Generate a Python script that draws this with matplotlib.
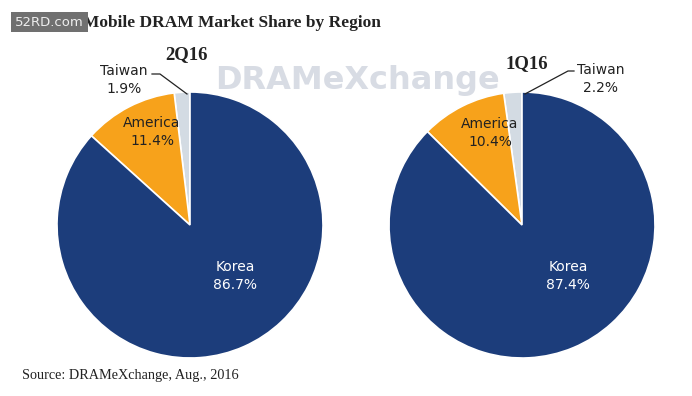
import matplotlib.pyplot as plt

regions = ['Taiwan', 'America', 'Korea']
share_2q16 = [1.9, 11.4, 86.7]
share_1q16 = [2.2, 10.4, 87.4]
colors = ['#d3dbe3', '#f7a21b', '#1c3d7b']

W, H = 692, 396
fig = plt.figure(figsize=(W / 100, H / 100), dpi=100)
ax = fig.add_axes([0, 0, 1, 1])


def py(y):
    # pixel row from top -> data y
    return H - y


# background watermark
ax.text(357, py(80), 'DRAMeXchange', fontsize=23, fontweight='bold',
        color='#d8dce4', ha='center', va='center', family='DejaVu Sans', zorder=0)

for vals, cx in [(share_2q16, 190), (share_1q16, 522)]:
    ax.pie(vals, colors=colors, startangle=90, counterclock=True,
           center=(cx, py(225)), radius=133, frame=True,
           wedgeprops=dict(edgecolor='white', linewidth=1.2))

ax.set_xlim(0, W)
ax.set_ylim(0, H)
ax.set_aspect('equal')
ax.axis('off')

lab = dict(fontsize=10, ha='center', va='center', linespacing=1.35)
# left pie labels
ax.text(235, py(276), 'Korea\n%.1f%%' % share_2q16[2], color='white', **lab)
ax.text(152, py(132), 'America\n%.1f%%' % share_2q16[1], color='#222222', **lab)
ax.text(124, py(80), 'Taiwan\n%.1f%%' % share_2q16[0], color='#222222', **lab)
ax.plot([152, 160, 187], [py(74), py(74), py(94)], color='#222222', lw=0.9)
# right pie labels
ax.text(568, py(276), 'Korea\n%.1f%%' % share_1q16[2], color='white', **lab)
ax.text(490, py(133), 'America\n%.1f%%' % share_1q16[1], color='#222222', **lab)
ax.text(601, py(79), 'Taiwan\n%.1f%%' % share_1q16[0], color='#222222', **lab)
ax.plot([574, 568, 525], [py(71), py(71), py(94)], color='#222222', lw=0.9)

serif = 'Liberation Serif'
ax.text(186, py(55), '2Q16', fontsize=13.5, fontweight='bold', family=serif,
        ha='center', va='center', color='#222222')
ax.text(527, py(64), '1Q16', fontsize=13.5, fontweight='bold', family=serif,
        ha='center', va='center', color='#222222')

ax.text(83, py(23), 'Mobile DRAM Market Share by Region', fontsize=12.5,
        fontweight='bold', family=serif, ha='left', va='center', color='#222222')
ax.text(15, py(22), '52RD.com', fontsize=9.5, color='#eeeeee', ha='left', va='center',
        bbox=dict(boxstyle='square,pad=0.3', fc='#707070', ec='none'))

ax.text(22, py(376), 'Source: DRAMeXchange, Aug., 2016', fontsize=10.3,
        family=serif, ha='left', va='center', color='#222222')

fig.savefig('out.png', dpi=100)
